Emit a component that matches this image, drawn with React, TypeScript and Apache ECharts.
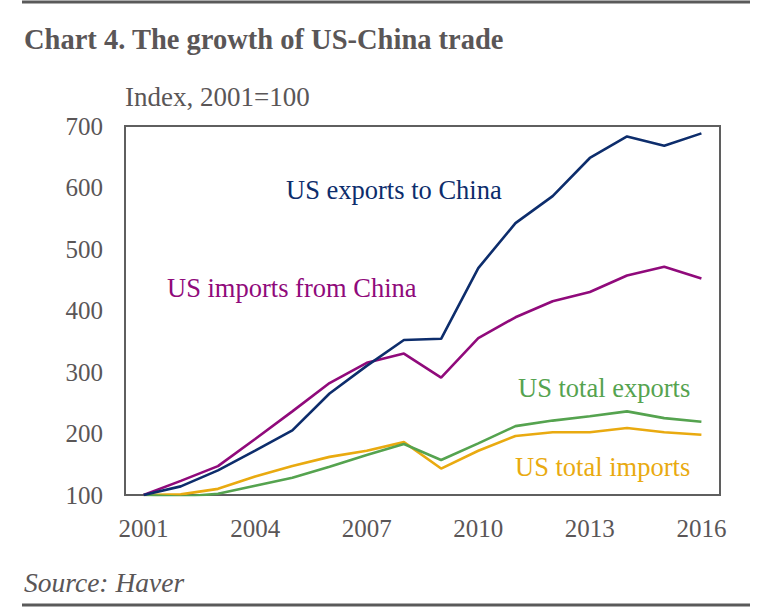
import React, { useEffect, useRef } from "react";
import * as echarts from "echarts";

const years = ["2001","2002","2003","2004","2005","2006","2007","2008","2009","2010","2011","2012","2013","2014","2015","2016"];
const exportsToChina = [100, 114, 140, 172, 205, 265, 310, 352, 354, 469, 542, 586, 648, 683, 668, 688];
const importsFromChina = [100, 123, 147, 191, 236, 282, 315, 330, 291, 355, 389, 415, 430, 457, 471, 452];
const totalExports = [100, 97, 102, 115, 128, 146, 165, 183, 157, 184, 212, 221, 228, 236, 225, 219];
const totalImports = [100, 101, 110, 130, 147, 162, 172, 186, 143, 172, 196, 202, 202, 209, 202, 198];

const NAVY = "#0d2d6c";
const PURPLE = "#900a7b";
const GREEN = "#55a34f";
const ORANGE = "#e9aa10";
const GREY = "#5a5657";
const FONT = "'Liberation Serif', 'DejaVu Serif', serif";

export default function App() {
  const ref = useRef<HTMLDivElement>(null);
  useEffect(() => {
    if (!ref.current) return;
    const chart = echarts.init(ref.current, null, { renderer: "svg" });
    const line = (name: string, data: number[], color: string) => ({
      name,
      type: "line",
      data,
      symbol: "none",
      lineStyle: { color, width: 2.6 },
      itemStyle: { color },
    });
    chart.setOption({
      animation: false,
      backgroundColor: "#ffffff",
      textStyle: { fontFamily: FONT },
      grid: {
        left: 125,
        top: 126,
        right: 54,
        bottom: 117,
        show: true,
        borderColor: "#5f5f5f",
        borderWidth: 2,
        backgroundColor: "transparent",
      },
      xAxis: {
        type: "category",
        data: years,
        boundaryGap: true,
        axisLine: { show: false },
        axisTick: { show: false },
        splitLine: { show: false },
        axisLabel: {
          interval: 2,
          margin: 21,
          color: GREY,
          fontSize: 25,
          fontFamily: FONT,
        },
      },
      yAxis: {
        type: "value",
        min: 100,
        max: 700,
        interval: 100,
        axisLine: { show: false },
        axisTick: { show: false },
        splitLine: { show: false },
        axisLabel: {
          margin: 22,
          color: GREY,
          fontSize: 25,
          fontFamily: FONT,
        },
      },
      series: [
        line("US total imports", totalImports, ORANGE),
        line("US total exports", totalExports, GREEN),
        line("US imports from China", importsFromChina, PURPLE),
        line("US exports to China", exportsToChina, NAVY),
      ],
      graphic: [
        { type: "line", shape: { x1: 22, y1: 2, x2: 750, y2: 2 }, style: { stroke: "#5a5a5a", lineWidth: 3 } },
        { type: "line", shape: { x1: 22, y1: 605, x2: 750, y2: 605 }, style: { stroke: "#5a5a5a", lineWidth: 3 } },
        {
          type: "text", x: 24, y: 39,
          style: { text: "Chart 4. The growth of US-China trade", fill: GREY, font: `bold 28.5px ${FONT}`, textVerticalAlign: "middle" },
        },
        {
          type: "text", x: 125, y: 97,
          style: { text: "Index, 2001=100", fill: GREY, font: `27px ${FONT}`, textVerticalAlign: "middle" },
        },
        {
          type: "text", x: 24, y: 582,
          style: { text: "Source: Haver", fill: GREY, font: `italic 27.5px ${FONT}`, textVerticalAlign: "middle" },
        },
        {
          type: "text", x: 286, y: 190,
          style: { text: "US exports to China", fill: NAVY, font: `26.5px ${FONT}`, textVerticalAlign: "middle" },
        },
        {
          type: "text", x: 167, y: 288,
          style: { text: "US imports from China", fill: PURPLE, font: `26.5px ${FONT}`, textVerticalAlign: "middle" },
        },
        {
          type: "text", x: 518, y: 388,
          style: { text: "US total exports", fill: GREEN, font: `26.5px ${FONT}`, textVerticalAlign: "middle" },
        },
        {
          type: "text", x: 515, y: 467,
          style: { text: "US total imports", fill: ORANGE, font: `26.5px ${FONT}`, textVerticalAlign: "middle" },
        },
      ],
    });
    return () => chart.dispose();
  }, []);
  return <div ref={ref} style={{ position: "absolute", left: 0, top: 0, width: 774, height: 612 }} />;
}
